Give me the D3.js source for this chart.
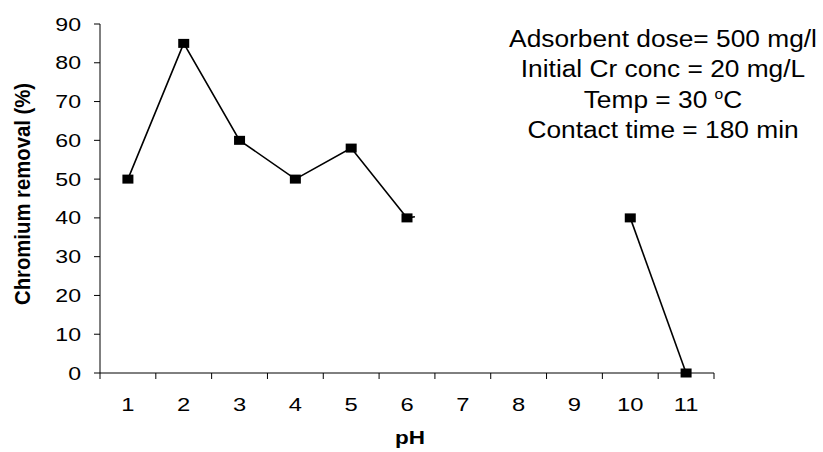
<!DOCTYPE html>
<html><head><meta charset="utf-8">
<script src="https://cdn.jsdelivr.net/npm/d3@7"></script>
<style>body{margin:0;background:#fff}svg{display:block}text{font-family:"Liberation Sans",Arial,sans-serif;fill:#000}</style>
</head><body><svg id="c" width="823" height="452"></svg>
<script>
const categories = ["1","2","3","4","5","6","7","8","9","10","11"];
const removal = [
  {ph:"1", v:50},{ph:"2", v:85},{ph:"3", v:60},{ph:"4", v:50},{ph:"5", v:58},{ph:"6", v:40}
];
const removalHigh = [{ph:"10", v:40},{ph:"11", v:0}];
const stub = [{ph:"6", v:40},{ph:"7", v:42}];
const yTicks = [0,10,20,30,40,50,60,70,80,90];
const notes = ["Adsorbent dose= 500 mg/l","Initial Cr conc = 20 mg/L","Temp = 30 |o|C","Contact time = 180 min"];

const svg = d3.select("#c");
const SX = 1.25;
const x = d3.scaleBand().domain(categories).range([100,714]);
const y = d3.scaleLinear().domain([0,90]).range([373,24]);

const g = svg.append("g");
g.append("line").attr("x1",100).attr("x2",100).attr("y1",y(90)).attr("y2",y(0)).attr("stroke","#000").attr("stroke-width",1);
g.append("line").attr("x1",100).attr("x2",714).attr("y1",y(0)).attr("y2",y(0)).attr("stroke","#000").attr("stroke-width",1);
yTicks.forEach(t=>{
  g.append("line").attr("x1",94).attr("x2",100).attr("y1",y(t)).attr("y2",y(t)).attr("stroke","#000");
  g.append("text").attr("transform",`translate(81,${y(t)+6.5}) scale(${SX},1)`).attr("text-anchor","end").style("font-size","18.5px").text(t);
});
const bounds = categories.map(c=>x(c)).concat([x.range()[1]]);
bounds.forEach(b=>{
  g.append("line").attr("x1",b).attr("x2",b).attr("y1",y(0)).attr("y2",y(0)+6).attr("stroke","#000");
});
categories.forEach(c=>{
  g.append("text").attr("transform",`translate(${x(c)+x.bandwidth()/2},411) scale(${SX},1)`).attr("text-anchor","middle").style("font-size","19px").text(c);
});
g.append("text").attr("transform",`translate(410,444) scale(${SX},1)`).attr("text-anchor","middle").style("font-size","18px").style("font-weight","bold").text("pH");
g.append("text").attr("transform",`translate(30,194) scale(1.3,1) rotate(-90)`).attr("text-anchor","middle").style("font-size","17px").style("font-weight","bold")
  .attr("textLength",222).attr("lengthAdjust","spacingAndGlyphs").text("Chromium removal (%)");

const line = d3.line().x(d=>x(d.ph)+x.bandwidth()/2).y(d=>y(d.v));
[removal, removalHigh].forEach(s=>{
  svg.append("path").attr("d",line(s)).attr("fill","none").attr("stroke","#000").attr("stroke-width",1.6);
});
svg.append("path").attr("d",line(stub)).attr("fill","none").attr("stroke","#000").attr("stroke-width",1.6).attr("stroke-dasharray","8,1000");
removal.concat(removalHigh).forEach(d=>{
  svg.append("rect").attr("x",x(d.ph)+x.bandwidth()/2-5.5).attr("y",y(d.v)-4.5).attr("width",11).attr("height",9).attr("fill","#000");
});

notes.forEach((n,i)=>{
  const t = svg.append("text").attr("transform",`translate(663,${47+i*30.3}) scale(1.12,1)`).attr("text-anchor","middle").style("font-size","23.5px");
  const parts = n.split("|");
  if(parts.length===1){ t.text(n); }
  else {
    t.append("tspan").text(parts[0]);
    t.append("tspan").attr("dy",-9).style("font-size","14px").text(parts[1]);
    t.append("tspan").attr("dy",9).text(parts[2]);
  }
});
</script></body></html>
